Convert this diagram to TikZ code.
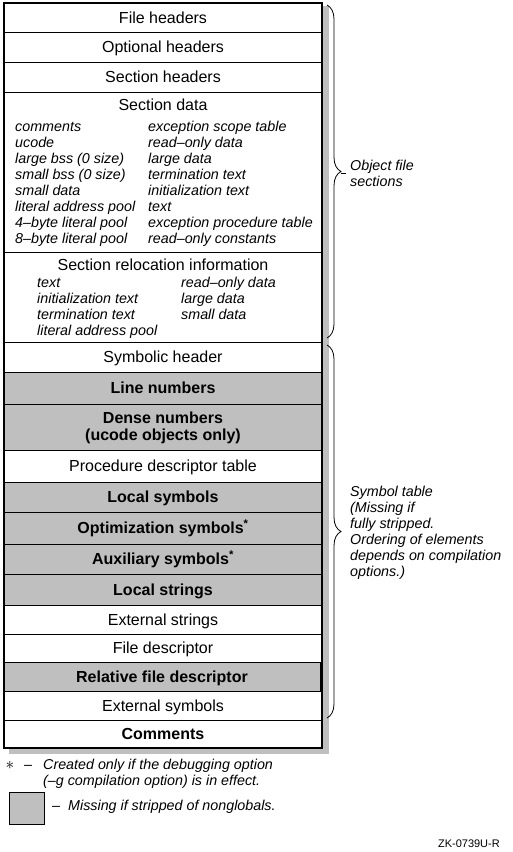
\documentclass[tikz,border=0pt]{standalone}
\usepackage{fontspec}
\setmainfont{Liberation Sans}
\usetikzlibrary{calc,decorations.pathreplacing}
\definecolor{stip}{HTML}{BFBFBF}
\tikzset{
  row/.style={draw, line width=1pt, fill=white, minimum width=318pt, minimum height=#1,
    anchor=north west, inner sep=0pt, outer sep=0pt,
    font=\fontsize{16}{18}\selectfont, text height=11.5pt, text depth=0pt},
  shrow/.style={row=#1, fill=stip, font=\fontsize{16}{18}\selectfont\bfseries},
  title/.style={anchor=base, inner sep=0pt, font=\fontsize{16}{18}\selectfont},
  item/.style={anchor=base west, inner sep=0pt, font=\fontsize{14.3}{16}\selectfont\itshape},
  note/.style={anchor=west, align=left, inner sep=0pt, font=\fontsize{14.3}{16}\selectfont\itshape},
  brc/.style={decorate, decoration={brace, amplitude=14pt}, line width=0.8pt}
}

\begin{document}
\begin{tikzpicture}[x=1pt, y=-1pt]
\useasboundingbox (0,0) rectangle (512,852);
% shadow
\fill[stip] (9,6) rectangle (329,754);

% object file sections
\node[row=29pt] (fileh) at (4,3) {File headers};
\node[row=30pt] (opth) at (fileh.south west) {Optional headers};
\node[row=30pt] (secth) at (opth.south west) {Section headers};
\node[row=160pt] (sdata) at (secth.south west) {};
\node[row=90pt] (sreloc) at (sdata.south west) {};

\node[title] (sdtitle) at ($(sdata.north)+(0,18)$) {Section data};
\foreach \t [count=\i] in {comments, ucode, large bss (0 size), small bss (0 size),
    small data, literal address pool, 4--byte literal pool, 8--byte literal pool}
  \node[item] (sda\i) at ($(sdata.north west)+(11,{39+16*(\i-1)})$) {\t};
\foreach \t [count=\i] in {exception scope table, read--only data, large data,
    termination text, initialization text, text, exception procedure table,
    read--only constants}
  \node[item] (sdb\i) at ($(sdata.north west)+(144,{39+16*(\i-1)})$) {\t};

\node[title] (srtitle) at ($(sreloc.north)+(0,18)$) {Section relocation information};
\foreach \t [count=\i] in {text, initialization text, termination text, literal address pool}
  \node[item] (sra\i) at ($(sreloc.north west)+(33,{35+16*(\i-1)})$) {\t};
\foreach \t [count=\i] in {read--only data, large data, small data}
  \node[item] (srb\i) at ($(sreloc.north west)+(177,{35+16*(\i-1)})$) {\t};

% symbol table
\node[row=30pt] (symh) at (sreloc.south west) {Symbolic header};
\node[shrow=32pt] (linen) at (symh.south west) {Line numbers};
\node[shrow=46pt] (densen) at (linen.south west) {};
\node[title, font=\fontsize{16}{18}\selectfont\bfseries] (densea) at ($(densen.north)+(0,19)$) {Dense numbers};
\node[title, font=\fontsize{16}{18}\selectfont\bfseries] (denseb) at ($(densen.north)+(0,36)$) {(ucode objects only)};
\node[row=32pt] (procd) at (densen.south west) {Procedure descriptor table};
\node[shrow=30pt] (locsym) at (procd.south west) {Local symbols};
\node[shrow=32pt] (optsym) at (locsym.south west) {Optimization symbols\textsuperscript{*}};
\node[shrow=30pt] (auxsym) at (optsym.south west) {Auxiliary symbols\textsuperscript{*}};
\node[shrow=31pt] (locstr) at (auxsym.south west) {Local strings};
\node[row=29pt] (extstr) at (locstr.south west) {External strings};
\node[row=28pt] (filed) at (extstr.south west) {File descriptor};
\node[row=29pt] (relfd) at (filed.south west) {};
\node[shrow=29pt, minimum width=316pt] (relbox) at (relfd.north west) {Relative file descriptor};
\node[row=29pt] (extsym) at (relfd.south west) {External symbols};
\node[row=28pt, font=\fontsize{16}{18}\selectfont\bfseries] (comm) at (extsym.south west) {Comments};

% outer frame
\draw[line width=2.5pt] (fileh.north west) rectangle (comm.south east);

% braces
\draw[brc] ($(fileh.north east)+(5,2)$) -- ($(sreloc.south east)+(5,-4)$);
\coordinate (objtip) at ($(fileh.north east)!0.5!(sreloc.south east)+(19,1)$);
\draw[line width=1.2pt] (objtip) -- ++(5,0);
\node[note] (objnote) at ($(objtip)+(9,0)$) {Object file\\sections};

\draw[brc] ($(symh.north east)+(5,3)$) -- ($(extsym.south east)+(5,-2)$);
\coordinate (symtip) at ($(symh.north east)!0.5!(extsym.south east)+(19,2)$);
\node[note] (symnote) at ($(symtip)+(9,0)$) {Symbol table\\(Missing if\\fully stripped.\\Ordering of elements\\depends on compilation\\options.)};

% legend
\node[anchor=base, inner sep=0pt, font=\fontsize{16}{16}\selectfont] (star) at (10,769) {$\ast$};
\node[item] (stardash) at (24,769) {--};
\node[item] (starnote) at (43,769) {Created only if the debugging option};
\node[item] (starnoteb) at (43,785) {(--g compilation option) is in effect.};
\node[draw, fill=stip, line width=0.8pt, minimum width=35pt, minimum height=32pt,
  anchor=north west, inner sep=0pt] (keybox) at (9,792) {};
\node[item] (keydash) at (52,810) {--};
\node[item] (keynote) at (68,810) {Missing if stripped of nonglobals.};

\node[anchor=base east, inner sep=0pt, font=\fontsize{11}{13}\selectfont] (figid) at (500,847) {ZK-0739U-R};
\end{tikzpicture}
\end{document}
